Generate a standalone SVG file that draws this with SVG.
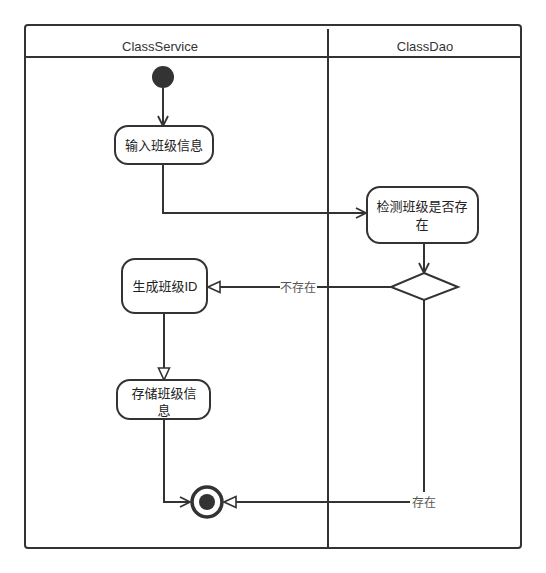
<svg xmlns="http://www.w3.org/2000/svg" width="546" height="573" viewBox="0 0 546 573">
<defs>
<style>
.ln{fill:none;stroke:#333;stroke-width:2}
.nd{fill:#fff;stroke:#333;stroke-width:2}
.t{font-family:"Liberation Sans","Noto Sans CJK SC",sans-serif;font-size:13px;fill:#222;text-anchor:middle}
.h{font-family:"Liberation Sans","Noto Sans CJK SC",sans-serif;font-size:13px;fill:#333;text-anchor:middle}
.lb{font-family:"Liberation Sans","Noto Sans CJK SC",sans-serif;font-size:12px;fill:#555;text-anchor:middle}
</style>
<marker id="open" viewBox="0 0 12 12" refX="11" refY="6" markerWidth="12" markerHeight="12" markerUnits="userSpaceOnUse" orient="auto">
<path d="M1,1 L11,6 L1,11" fill="none" stroke="#333" stroke-width="1.8"/>
</marker>
<marker id="tri" viewBox="0 0 14 14" refX="13" refY="7" markerWidth="14" markerHeight="14" markerUnits="userSpaceOnUse" orient="auto">
<path d="M1,1.5 L13,7 L1,12.5 Z" fill="#fff" stroke="#333" stroke-width="1.6"/>
</marker>
</defs>
<rect width="546" height="573" fill="#fff"/>
<g id="swimlanes">
<rect x="25" y="25" width="496" height="523" rx="3" fill="none" stroke="#333" stroke-width="2"/>
<line x1="25" y1="57" x2="521" y2="57" stroke="#333" stroke-width="2"/>
<line x1="328" y1="29" x2="328" y2="548" stroke="#333" stroke-width="2"/>
<text class="h" x="160" y="51">ClassService</text>
<text class="h" x="425" y="51">ClassDao</text>
</g>
<g id="connectors">
<path class="ln" d="M163,88 V126" marker-end="url(#open)"/>
<path class="ln" d="M163,164 V213 H366" marker-end="url(#open)"/>
<path class="ln" d="M424,243 V273" marker-end="url(#open)"/>
<path class="ln" d="M391,287 H317"/>
<path class="ln" d="M280,287 H208" marker-end="url(#tri)"/>
<text class="lb" x="298" y="292">不存在</text>
<path class="ln" d="M164,313 V380" marker-end="url(#tri)"/>
<path class="ln" d="M164,419 V502 H190" marker-end="url(#open)"/>
<path class="ln" d="M424,299 V492"/>
<path class="ln" d="M410,502 H224" marker-end="url(#tri)"/>
<text class="lb" x="424" y="507">存在</text>
</g>
<g id="start">
<circle cx="163" cy="77" r="11" fill="#333"/>
</g>
<g id="node1">
<rect class="nd" x="115" y="126" width="98" height="38" rx="13"/>
<text class="t" x="164" y="150">输入班级信息</text>
</g>
<g id="node2">
<rect class="nd" x="367" y="187" width="111" height="56" rx="13"/>
<text class="t" x="422" y="211">检测班级是否存</text>
<text class="t" x="422" y="229">在</text>
</g>
<g id="decision">
<polygon class="nd" points="424,273 458,287 424,300 391,287"/>
</g>
<g id="node3">
<rect class="nd" x="122" y="259" width="85" height="54" rx="13"/>
<text class="t" x="165" y="291">生成班级ID</text>
</g>
<g id="node4">
<rect class="nd" x="117" y="380" width="93" height="39" rx="13"/>
<text class="t" x="164" y="398">存储班级信</text>
<text class="t" x="164" y="415">息</text>
</g>
<g id="end">
<circle cx="207" cy="502" r="15" fill="#fff" stroke="#333" stroke-width="3.5"/>
<circle cx="207" cy="502" r="8" fill="#333"/>
</g>
</svg>
